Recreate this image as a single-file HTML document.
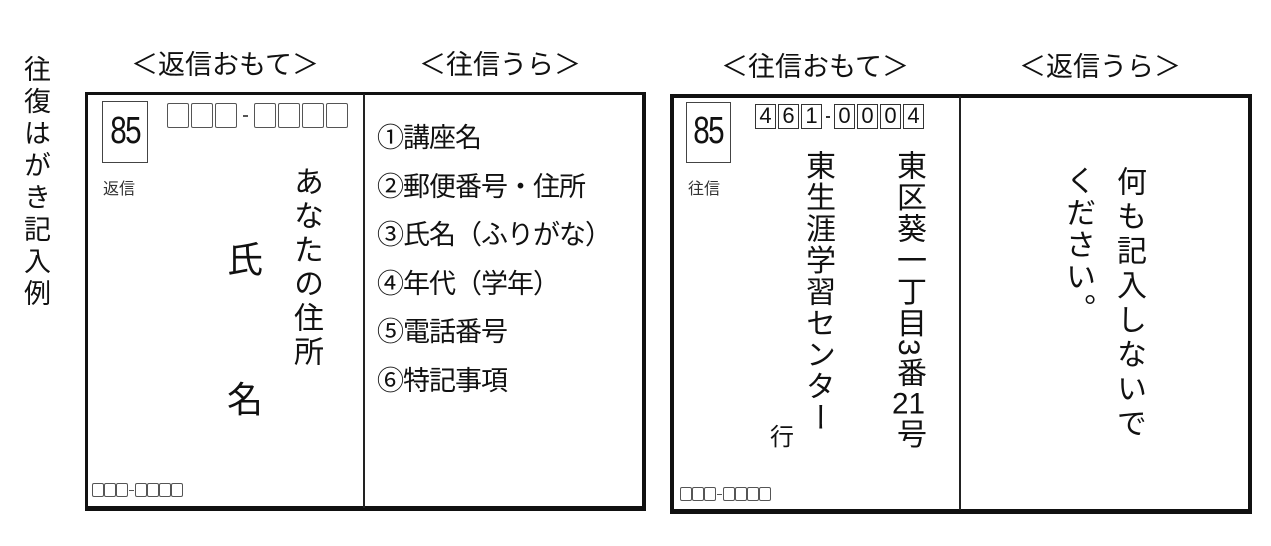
<!DOCTYPE html>
<html><head><meta charset="utf-8"><style>
*{margin:0;padding:0;box-sizing:border-box}
body{width:1271px;height:546px;background:#fff;position:relative;overflow:hidden;font-family:"Liberation Sans","Noto Sans CJK JP",sans-serif;color:#111}
.a{position:absolute}
.v{position:absolute;writing-mode:vertical-rl;white-space:nowrap;line-height:1}
.tcy{text-combine-upright:all}
.h{position:absolute;font-size:27px;line-height:30px;text-align:center;white-space:nowrap}
.pb{display:inline-block;border:1.5px solid #555;border-radius:2px}
.row{position:absolute;display:flex;align-items:center}
.db{display:inline-block;width:21px;height:25px;border:1.5px solid #333;font-size:22px;line-height:22px;text-align:center;margin-right:2px}
.n85{position:absolute;border:1.5px solid #444;text-align:center}
.n85 span{display:inline-block;transform:scaleX(0.78);font-size:38px;letter-spacing:-2px}
.sb{width:12px;height:14px;border-width:1px;margin-right:0}
</style></head><body>

<div class="v" style="left:21px;top:55px;font-size:27px;letter-spacing:5px">往復はがき記入例</div>

<div class="h" style="left:110px;top:50px;width:230px">＜返信おもて＞</div>
<div class="h" style="left:395px;top:50px;width:210px">＜往信うら＞</div>
<div class="h" style="left:700px;top:52px;width:230px">＜往信おもて＞</div>
<div class="h" style="left:995px;top:52px;width:210px">＜返信うら＞</div>

<!-- left card -->
<div class="a" style="left:85px;top:92px;width:561px;height:419px;border-style:solid;border-color:#111;border-width:3px 4px 5px 3px"></div>
<div class="a" style="left:363px;top:94px;width:2px;height:414px;background:#222"></div>

<div class="n85" style="left:102px;top:101px;width:46px;height:62px;line-height:58px"><span>85</span></div>
<div class="a" style="left:103px;top:175px;font-size:16px;color:#333">返信</div>
<div class="row" style="left:167px;top:103px">
<span class="pb" style="width:22px;height:25px;margin-right:2px"></span><span class="pb" style="width:22px;height:25px;margin-right:2px"></span><span class="pb" style="width:22px;height:25px"></span>
<span style="display:inline-block;width:5px;height:2px;background:#555;margin:0 6px"></span>
<span class="pb" style="width:22px;height:25px;margin-right:2px"></span><span class="pb" style="width:22px;height:25px;margin-right:2px"></span><span class="pb" style="width:22px;height:25px;margin-right:2px"></span><span class="pb" style="width:22px;height:25px"></span>
</div>
<div class="v" style="left:290px;top:166px;font-size:30px;letter-spacing:4px">あなたの住所</div>
<div class="a" style="left:227px;top:240px;font-size:36px;line-height:40px">氏</div>
<div class="a" style="left:227px;top:380px;font-size:36px;line-height:40px">名</div>
<div class="row" style="left:92px;top:483px">
<span class="pb sb"></span><span class="pb sb"></span><span class="pb sb"></span>
<span style="display:inline-block;width:5px;height:1px;background:#555;margin:0 1px"></span>
<span class="pb sb"></span><span class="pb sb"></span><span class="pb sb"></span><span class="pb sb"></span>
</div>

<div class="a" style="left:377px;top:114px;font-size:27px;line-height:48.5px;white-space:nowrap;letter-spacing:-1px">
①講座名<br>②郵便番号・住所<br>③氏名（ふりがな）<br>④年代（学年）<br>⑤電話番号<br>⑥特記事項
</div>

<!-- right card -->
<div class="a" style="left:670px;top:94px;width:582px;height:420px;border-style:solid;border-color:#111;border-width:4px 4px 5px 4px"></div>
<div class="a" style="left:959px;top:96px;width:2px;height:414px;background:#222"></div>

<div class="n85" style="left:686px;top:102px;width:45px;height:61px;line-height:57px"><span>85</span></div>
<div class="a" style="left:688px;top:175px;font-size:16px;color:#333">往信</div>
<div class="row" style="left:755px;top:104px">
<span class="db">4</span><span class="db">6</span><span class="db" style="margin-right:0">1</span>
<span style="display:inline-block;width:4px;height:2px;background:#333;margin:0 4px"></span>
<span class="db">0</span><span class="db">0</span><span class="db">0</span><span class="db" style="margin-right:0">4</span>
</div>
<div class="v" style="left:802px;top:150px;font-size:30px;letter-spacing:1.5px">東生涯学習センター</div>
<div class="v" style="left:893px;top:150px;font-size:30px;letter-spacing:1.5px">東区葵一丁目3番<span class="tcy">21</span>号</div>
<div class="a" style="left:770px;top:424px;font-size:24px;line-height:28px">行</div>
<div class="v" style="left:1113px;top:166px;font-size:30px;letter-spacing:4.5px">何も記入しないで</div>
<div class="v" style="left:1062px;top:165px;font-size:30px;letter-spacing:2px">ください。</div>
<div class="row" style="left:680px;top:487px">
<span class="pb sb"></span><span class="pb sb"></span><span class="pb sb"></span>
<span style="display:inline-block;width:5px;height:1px;background:#555;margin:0 1px"></span>
<span class="pb sb"></span><span class="pb sb"></span><span class="pb sb"></span><span class="pb sb"></span>
</div>
</body></html>
